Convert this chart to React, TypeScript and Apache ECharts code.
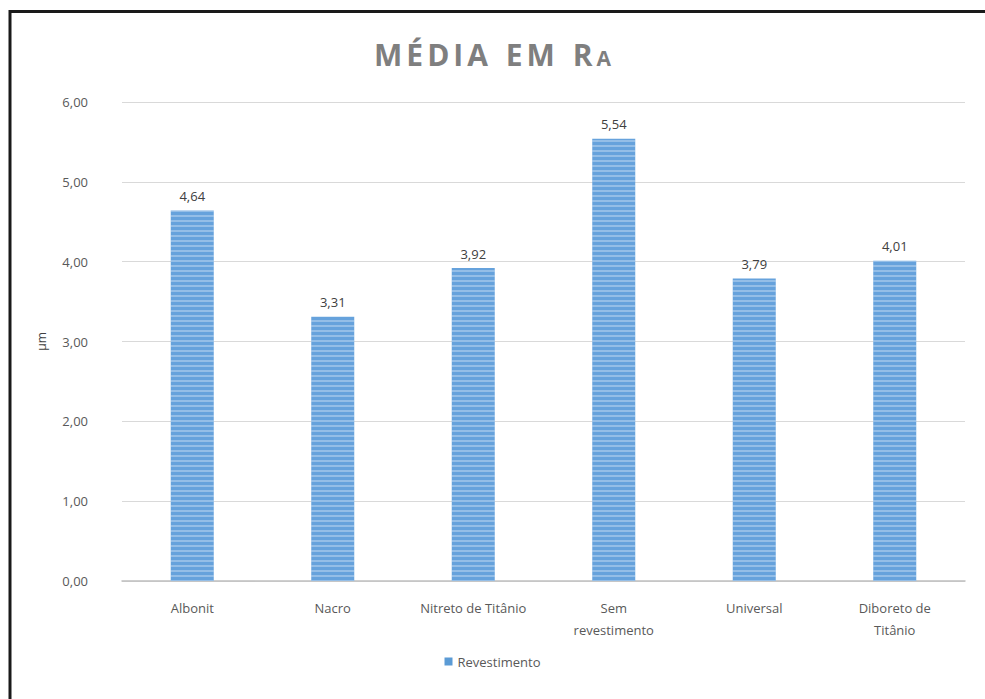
import React, { useEffect, useRef } from "react";
import * as echarts from "echarts";

const categories = ["Albonit", "Nacro", "Nitreto de Titânio", "Sem\nrevestimento", "Universal", "Diboreto de\nTitânio"];
const values = [4.64, 3.31, 3.92, 5.54, 3.79, 4.01];
const seriesName = "Revestimento";
const titleMain = "MÉDIA EM R";
const titleSub = "A";

export default function App() {
  const ref = useRef<HTMLDivElement>(null);
  useEffect(() => {
    const chart = echarts.init(ref.current!, null, { renderer: "svg" });
    const font = "'Open Sans', sans-serif";
    const titleText =
      titleMain
        .split("")
        .map((ch) => (ch === " " ? "{s| }" : `{a|${ch}}`))
        .join("") + `{b|${titleSub}}`;
    chart.setOption({
      animation: false,
      backgroundColor: "#ffffff",
      title: {
        text: titleText,
        left: "center",
        top: 34,
        textStyle: {
          rich: {
            a: { fontSize: 30, fontWeight: "bold", color: "#7f7f7f", fontFamily: font, padding: [0, 2, 0, 2] },
            s: { fontSize: 30, fontWeight: "bold", color: "#7f7f7f", fontFamily: font, padding: [0, 3, 0, 3] },
            b: { fontSize: 21, fontWeight: "bold", color: "#7f7f7f", fontFamily: font, padding: [7, 2, 0, 2] },
          },
        },
      },
      legend: {
        bottom: 26,
        left: "center",
        itemWidth: 8,
        itemHeight: 8,
        icon: "rect",
        textStyle: { color: "#595959", fontSize: 13, fontFamily: font },
        data: [{ name: seriesName, itemStyle: { color: "#5b9bd5", decal: "none" } }],
      },
      grid: { left: 122, right: 20, top: 102, bottom: 118, containLabel: false },
      xAxis: {
        type: "category",
        data: categories,
        axisLine: { lineStyle: { color: "#bfbfbf", width: 1.5 } },
        axisTick: { show: false },
        axisLabel: { color: "#595959", fontSize: 13, fontFamily: font, margin: 16, lineHeight: 22, interval: 0 },
      },
      yAxis: {
        type: "value",
        min: 0,
        max: 6,
        interval: 1,
        name: "µm",
        nameLocation: "middle",
        nameGap: 75,
        nameTextStyle: { color: "#404040", fontSize: 12, fontFamily: font },
        axisLabel: {
          color: "#595959",
          fontSize: 13,
          fontFamily: font,
          margin: 34,
          formatter: (v: number) => v.toFixed(2).replace(".", ","),
        },
        splitLine: { lineStyle: { color: "#d9d9d9" } },
        axisLine: { show: false },
        axisTick: { show: false },
      },
      series: [
        {
          name: seriesName,
          type: "bar",
          data: values,
          barWidth: 43,
          itemStyle: {
            color: "#66a2dc",
            decal: {
              symbol: "rect",
              symbolSize: 1,
              dashArrayX: [1, 0],
              dashArrayY: [2, 3],
              rotation: 0,
              color: "rgba(255,255,255,0.3)",
            },
          },
          label: {
            show: true,
            position: "top",
            distance: 8,
            color: "#404040",
            fontSize: 13,
            fontFamily: font,
            formatter: (p: any) => p.value.toFixed(2).replace(".", ","),
          },
        },
      ],
      graphic: [
        { type: "line", shape: { x1: 10, y1: 10, x2: 10, y2: 699 }, style: { stroke: "#1a1a1a", lineWidth: 3 } },
        { type: "line", shape: { x1: 9, y1: 11.5, x2: 985, y2: 11.5 }, style: { stroke: "#1a1a1a", lineWidth: 3 } },
      ],
    });
    return () => chart.dispose();
  }, []);
  return <div ref={ref} style={{ position: "fixed", left: 0, top: 0, width: 985, height: 699 }} />;
}
